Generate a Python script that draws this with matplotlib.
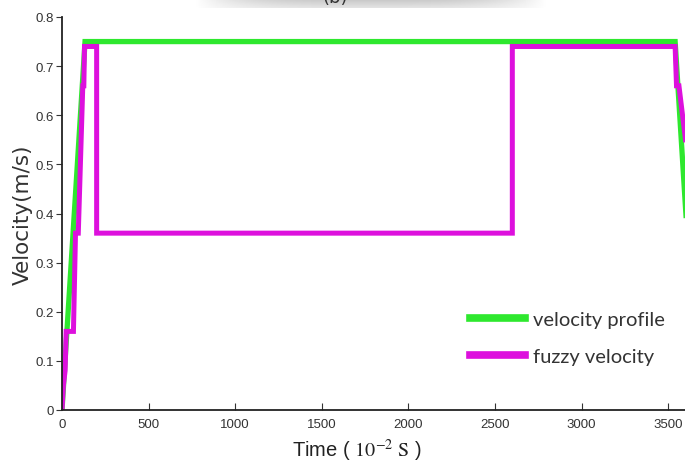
import matplotlib
matplotlib.use("Agg")
import matplotlib.pyplot as plt
import numpy as np

# data
profile_t = [0, 133, 3540, 3673]
profile_v = [0.0, 0.75, 0.75, 0.0]

fuzzy_t = [0, 8, 18, 24, 36, 66, 78, 94, 120, 126, 130, 140, 200, 200, 2600, 2600, 3540, 3548, 3562, 3600]
fuzzy_v = [0.0, 0.05, 0.08, 0.16, 0.16, 0.16, 0.36, 0.36, 0.66, 0.66, 0.74, 0.74, 0.74, 0.36, 0.36, 0.74, 0.74, 0.66, 0.66, 0.55]

xticks = [0, 500, 1000, 1500, 2000, 2500, 3000, 3500]
yticks = [0, 0.1, 0.2, 0.3, 0.4, 0.5, 0.6, 0.7, 0.8]
ytick_labels = ['0', '0.1', '0.2', '0.3', '0.4', '0.5', '0.6', '0.7', '0.8']

plt.rcParams['mathtext.fontset'] = 'stix'
fig = plt.figure(figsize=(6.85, 4.64), dpi=100)

# faint grey band at the top (cropped caption region)
band = fig.add_axes([195/685, 1 - 9/464, 352/685, 9/464])
gx = np.linspace(-1, 1, 200)
gy = np.linspace(0, 1, 10)
GX, GY = np.meshgrid(gx, gy)
shade = 1 - 0.22 * np.clip(1 - np.abs(GX) ** 3, 0, 1) * (1 - 0.5 * GY)
band.imshow(shade, cmap='gray', vmin=0, vmax=1, aspect='auto', extent=[0, 1, 0, 1])
band.axis('off')
fig.text(0.49, 1.005, '(b)', ha='center', va='center', fontsize=13, color='#333333')

ax = fig.add_axes([62/685, 53/464, 623/685, 393/464])

ax.plot(profile_t, profile_v, color='#2ee82e', lw=3.8, label='velocity profile', solid_joinstyle='miter')
ax.plot(fuzzy_t, fuzzy_v, color='#dd10dd', lw=3.6, label='fuzzy velocity', solid_joinstyle='miter')

ax.set_xlim(0, 3597)
ax.set_ylim(0, 0.8)
ax.set_xticks(xticks)
ax.set_xticklabels([str(x) for x in xticks], family='Liberation Sans')
ax.set_yticks(yticks)
ax.set_yticklabels(ytick_labels, family='Liberation Sans')
for s in ['top', 'right']:
    ax.spines[s].set_visible(False)
for s in ['left', 'bottom']:
    ax.spines[s].set_linewidth(1.3)
    ax.spines[s].set_color('#222222')
ax.tick_params(axis='x', direction='in', length=5, labelsize=9.5, colors='#333333', pad=6)
ax.tick_params(axis='y', direction='out', length=4, labelsize=9.5, colors='#333333', pad=2)

ax.set_ylabel('Velocity(m/s)', fontsize=15.5, color='#333333', labelpad=2)
ax.set_xlabel('Time ( $\\mathrm{10^{-2}\\ S}$ )', fontsize=14.5, color='#222222',
              family='Liberation Sans')
ax.xaxis.set_label_coords((357 - 62) / 623, -27 / 393)
ax.xaxis.label.set_va('top')

leg = ax.legend(loc='upper left', bbox_to_anchor=(390/623, 1 - 276/393), frameon=False,
                handlelength=2.7, handletextpad=0.4, labelspacing=1.0,
                prop={'family': 'Lato', 'size': 14.5})
for t in leg.get_texts():
    t.set_color('#333333')
for h in leg.get_lines():
    h.set_linewidth(5.5)

fig.savefig('out.png', dpi=100)
